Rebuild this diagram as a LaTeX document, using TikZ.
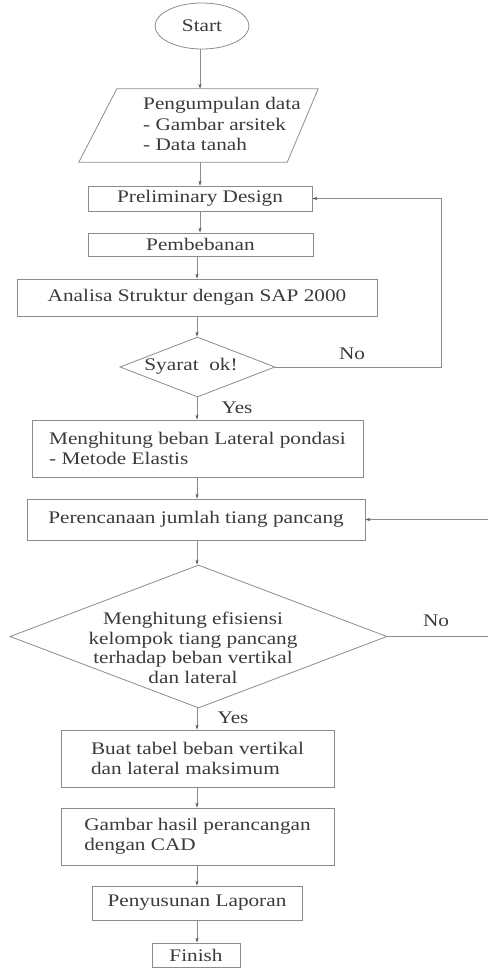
\documentclass[tikz,border=0pt]{standalone}
\usepackage{fontspec}
\setmainfont{Liberation Serif}[FakeStretch=1.2]
\usetikzlibrary{shapes.geometric,arrows.meta}
\definecolor{ink}{HTML}{3A3A3A}
\definecolor{linec}{HTML}{8C8C8C}
\begin{document}
\begin{tikzpicture}[x=1pt,y=-1pt,
  every node/.style={font=\fontsize{17.7}{19.5}\selectfont, text=ink},
  box/.style={draw=linec, line width=0.8pt, rectangle, inner sep=0pt},
  dia/.style={draw=linec, line width=0.8pt, diamond, inner sep=0pt},
  lbl/.style={inner sep=0pt},
  arr/.style={draw=linec, line width=0.8pt, -{Stealth[length=5pt,width=3.2pt,color=ink!85]}},
  ln/.style={draw=linec, line width=0.8pt}]
\useasboundingbox (0,0) rectangle (488,970);

\coordinate (ax1) at (200,0);
\coordinate (ax2) at (197,0);
\coordinate (fb1) at (441,0);
\coordinate (edge) at (488,0);

% nodes
\node[draw=linec, line width=0.8pt, ellipse, inner sep=0pt, minimum width=94pt, minimum height=46pt] (start) at (202,26) {Start};

\node[rectangle, inner sep=0pt, minimum width=239pt, minimum height=73pt] (data) at (198.5,125.5) {};
\draw[ln] ([xshift=38pt]data.north west) -- (data.north east) -- ([xshift=-31pt]data.south east) -- (data.south west) -- cycle;
\node[lbl, anchor=west, align=left, font=\fontsize{17.7}{20.5}\selectfont] (datatext) at (143,124) {Pengumpulan data\\- Gambar arsitek\\- Data tanah};

\node[box, minimum width=224pt, minimum height=25pt] (pre) at (200,198.5) {Preliminary Design};
\node[box, minimum width=225pt, minimum height=23pt] (pem) at (200.5,244.5) {Pembebanan};
\node[box, minimum width=360pt, minimum height=37pt] (ana) at (197,297.5) {Analisa Struktur dengan SAP 2000};
\node[dia, minimum width=155pt, minimum height=60pt, aspect=2.58] (syarat) at (197.5,367) {};
\node[lbl] (syarattext) at (191,366) {Syarat\ \ ok!};
\node[box, minimum width=331pt, minimum height=57pt, align=left] (meng) at (197.5,448.5) {Menghitung beban Lateral pondasi\\- Metode Elastis};
\node[box, minimum width=338pt, minimum height=41pt] (per) at (196,519.5) {Perencanaan jumlah tiang pancang};
\node[dia, minimum width=377pt, minimum height=143pt, aspect=2.64] (d2) at (198.5,636.5) {};
\node[lbl, align=center] (d2text) at (193,648) {Menghitung efisiensi\\kelompok tiang pancang\\terhadap beban vertikal\\dan lateral};
\node[box, minimum width=273pt, minimum height=57pt, align=left] (buat) at (197.5,758.5) {Buat tabel beban vertikal\\dan lateral maksimum};
\node[box, minimum width=273pt, minimum height=57pt, align=left] (gam) at (197.5,836.5) {Gambar hasil perancangan\\dengan CAD};
\node[box, minimum width=210pt, minimum height=34pt] (pen) at (197,903) {Penyusunan Laporan};
\node[box, minimum width=88pt, minimum height=24pt] (fin) at (196,955) {Finish};

% labels
\node[lbl] (no1) at (352,354) {No};
\node[lbl] (yes1) at (237,408) {Yes};
\node[lbl] (no2) at (436,621) {No};
\node[lbl] (yes2) at (233,718) {Yes};

% connectors
\draw[arr] (start.south -| ax1) -- (data.north -| ax1);
\draw[arr] (data.south -| ax1) -- (pre.north -| ax1);
\draw[arr] (pre.south -| ax1) -- (pem.north -| ax1);
\draw[arr] (pem.south -| ax2) -- (ana.north -| ax2);
\draw[arr] (ana.south -| ax2) -- (syarat.north -| ax2);
\draw[arr] (syarat.south -| ax2) -- (meng.north -| ax2);
\draw[arr] (meng.south -| ax2) -- (per.north -| ax2);
\draw[arr] (per.south -| ax2) -- (d2.north -| ax2);
\draw[arr] (d2.south -| ax2) -- (buat.north -| ax2);
\draw[arr] (buat.south -| ax2) -- (gam.north -| ax2);
\draw[arr] (gam.south -| ax2) -- (pen.north -| ax2);
\draw[arr] (pen.south -| ax2) -- (fin.north -| ax2);

\draw[arr] (syarat.east) -- (syarat.east -| fb1) -- (pre.east -| fb1) -- (pre.east);
\draw[ln] (d2.east) -- (d2.east -| edge);
\draw[arr] (per.east -| edge) -- (per.east);
\end{tikzpicture}
\end{document}
